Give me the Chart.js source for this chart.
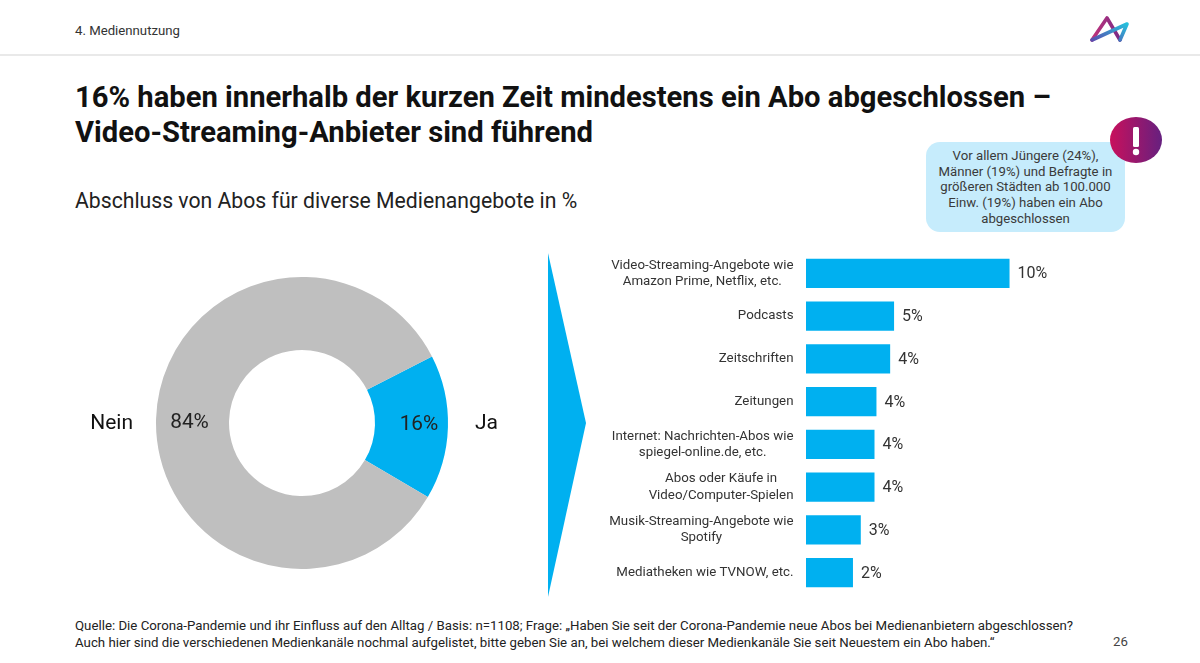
<!DOCTYPE html>
<html lang="de">
<head>
<meta charset="utf-8">
<title>Mediennutzung</title>
<script src="https://cdn.jsdelivr.net/npm/chart.js@4"></script>
<style>
html, body { margin: 0; padding: 0; background: #fff; }
body { position: relative; width: 1200px; height: 663px; overflow: hidden; font-family: Roboto, sans-serif; color: #1a1a1a; }
.abs { position: absolute; white-space: nowrap; }
canvas { position: absolute; }
#chapter { left: 75px; top: 23px; font-size: 13.2px; line-height: 16px; color: #333; }
#headerLine { left: 0; top: 54px; width: 1200px; height: 2px; background: #e9e9e9; }
#title { left: 75px; top: 80px; font-size: 29.2px; line-height: 35px; font-weight: 700; color: #111; }
#subtitle { left: 75px; top: 188px; font-size: 21.2px; line-height: 26px; color: #222; }
#callout { left: 926px; top: 142px; width: 199px; height: 90px; box-sizing: border-box; padding-top: 6px; border-radius: 14px; background: #c6ecfc; font-size: 13.2px; line-height: 15.7px; text-align: center; color: #3a3a3a; white-space: normal; }
#source { left: 75px; top: 618px; font-size: 13.25px; line-height: 16.5px; color: #222; }
#page { left: 1113px; top: 634px; font-size: 13.2px; line-height: 16px; color: #444; }
svg { position: absolute; overflow: visible; }
</style>
</head>
<body>
<div class="abs" id="chapter">4. Mediennutzung</div>
<div class="abs" id="headerLine"></div>
<svg style="left:0;top:0" width="1200" height="60">
  <defs>
    <linearGradient id="logoA" x1="0" x2="1" y1="0" y2="0"><stop offset="0" stop-color="#c2337a"/><stop offset="1" stop-color="#7a2a86"/></linearGradient>
    <linearGradient id="logoB" x1="0" x2="1" y1="1" y2="0"><stop offset="0" stop-color="#5a4fb0"/><stop offset="1" stop-color="#25c0dc"/></linearGradient>
  </defs>
  <polyline points="1092,40 1107,18 1120,40" fill="none" stroke="url(#logoA)" stroke-width="3.6" stroke-linejoin="round" stroke-linecap="round"/>
  <polyline points="1092,40 1127,24 1120,40" fill="none" stroke="url(#logoB)" stroke-width="3.6" stroke-linejoin="round" stroke-linecap="round"/>
</svg>
<div class="abs" id="title">16% haben innerhalb der kurzen Zeit mindestens ein Abo abgeschlossen –<br>Video-Streaming-Anbieter sind führend</div>
<div class="abs" id="subtitle">Abschluss von Abos für diverse Medienangebote in %</div>
<div class="abs" id="callout">Vor allem Jüngere (24%),<br>Männer (19%) und Befragte in<br>größeren Städten ab 100.000<br>Einw. (19%) haben ein Abo<br>abgeschlossen</div>
<svg style="left:1100px;top:110px" width="70" height="60">
  <defs>
    <linearGradient id="warn" x1="0" x2="1" y1="0" y2="0"><stop offset="0" stop-color="#c8105c"/><stop offset="1" stop-color="#66207f"/></linearGradient>
  </defs>
  <ellipse cx="36" cy="30" rx="26" ry="23" fill="url(#warn)"/>
  <rect x="33" y="17" width="6" height="20" rx="1.5" fill="#fff"/>
  <circle cx="36" cy="42" r="3.2" fill="#fff"/>
</svg>
<svg style="left:548px;top:253px" width="40" height="345">
  <polygon points="0,0 38,170 0,344" fill="#00b0f0"/>
</svg>
<canvas id="donutChart" width="444" height="292" style="left:80px;top:277px;width:444px;height:292px"></canvas>
<canvas id="barChart" width="480" height="342" style="left:600px;top:252px;width:480px;height:342px"></canvas>
<div class="abs" id="source">Quelle: Die Corona-Pandemie und ihr Einfluss auf den Alltag / Basis: n=1108; Frage: „Haben Sie seit der Corona-Pandemie neue Abos bei Medienanbietern abgeschlossen?<br>Auch hier sind die verschiedenen Medienkanäle nochmal aufgelistet, bitte geben Sie an, bei welchem dieser Medienkanäle Sie seit Neuestem ein Abo haben.“</div>
<div class="abs" id="page">26</div>

<script>
const donutLabels = ["Ja", "Nein"];
const donutValues = [16, 84];

const barLabels = [
    ["Video-Streaming-Angebote wie", "Amazon Prime, Netflix, etc."],
    ["Podcasts"],
    ["Zeitschriften"],
    ["Zeitungen"],
    ["Internet: Nachrichten-Abos wie", "spiegel-online.de, etc."],
    ["Abos oder Käufe in", "Video/Computer-Spielen"],
    ["Musik-Streaming-Angebote wie", "Spotify"],
    ["Mediatheken wie TVNOW, etc."]
];
const barValues = [10.4, 4.5, 4.3, 3.6, 3.5, 3.5, 2.8, 2.4];

const BLUE = "#00b0f0";
const GREY = "#bfbfbf";

/* Donut: percent inside the ring, name outside */
const donutTextPlugin = {
    id: "donutText",
    afterDraw(chart) {
        const { ctx } = chart;
        const arcs = chart.getDatasetMeta(0).data;
        const { x: cx, y: cy, outerRadius: r } = arcs[0].getProps(["x", "y", "outerRadius"], true);
        ctx.save();
        ctx.textBaseline = "middle";
        ctx.font = "400 20.8px Roboto, sans-serif";
        ctx.fillStyle = "#222";
        ctx.textAlign = "center";
        const inner = arcs[0].getCenterPoint();
        ctx.fillText(donutValues[0] + "%", inner.x + 7.5, cy + 2);
        ctx.fillText(donutValues[1] + "%", arcs[1].getCenterPoint().x - 3, cy);
        ctx.font = "400 21px Roboto, sans-serif";
        ctx.fillStyle = "#111";
        ctx.textAlign = "left";
        ctx.fillText(donutLabels[0], cx + r + 27, cy + 1);
        ctx.textAlign = "right";
        ctx.fillText(donutLabels[1], cx - r - 23, cy + 1);
        ctx.restore();
    }
};

new Chart(document.getElementById("donutChart"), {
    type: "doughnut",
    data: {
        labels: donutLabels,
        datasets: [{
            data: donutValues,
            backgroundColor: [BLUE, GREY],
            borderWidth: 0
        }]
    },
    options: {
        responsive: false,
        animation: false,
        cutout: "50%",
        rotation: 62.9,
        plugins: { legend: { display: false }, tooltip: { enabled: false } }
    },
    plugins: [donutTextPlugin]
});

/* Bars: labels sit in a centred block, the block flush right */
const barTextPlugin = {
    id: "barText",
    afterDraw(chart) {
        const { ctx, scales } = chart;
        const bars = chart.getDatasetMeta(0).data;
        const right = scales.x.left - 12.5;
        ctx.save();
        ctx.textBaseline = "middle";
        ctx.textAlign = "center";
        barLabels.forEach((lines, i) => {
            const y = scales.y.getPixelForValue(i);
            ctx.font = "400 13.3px Roboto, sans-serif";
            ctx.fillStyle = "#333";
            const blockWidth = Math.max(...lines.map(l => ctx.measureText(l).width));
            lines.forEach((line, k) => {
                const lineY = y + (k - (lines.length - 1) / 2) * 16.2;
                ctx.fillText(line, right - blockWidth / 2, lineY);
            });
        });
        ctx.textAlign = "left";
        ctx.font = "400 16px Roboto, sans-serif";
        ctx.fillStyle = "#333";
        barValues.forEach((v, i) => {
            ctx.fillText(Math.round(v) + "%", bars[i].x + 8, bars[i].y + 1);
        });
        ctx.restore();
    }
};

new Chart(document.getElementById("barChart"), {
    type: "bar",
    data: {
        labels: barLabels,
        datasets: [{
            data: barValues,
            backgroundColor: BLUE,
            borderWidth: 0,
            categoryPercentage: 1,
            barPercentage: 0.68
        }]
    },
    options: {
        indexAxis: "y",
        responsive: false,
        animation: false,
        layout: { padding: 0 },
        scales: {
            x: { display: false, min: 0, max: 14 },
            y: {
                grid: { display: false },
                border: { display: false },
                ticks: { display: false },
                afterFit: scale => { scale.width = 206; }
            }
        },
        plugins: { legend: { display: false }, tooltip: { enabled: false } }
    },
    plugins: [barTextPlugin]
});
</script>
</body>
</html>
